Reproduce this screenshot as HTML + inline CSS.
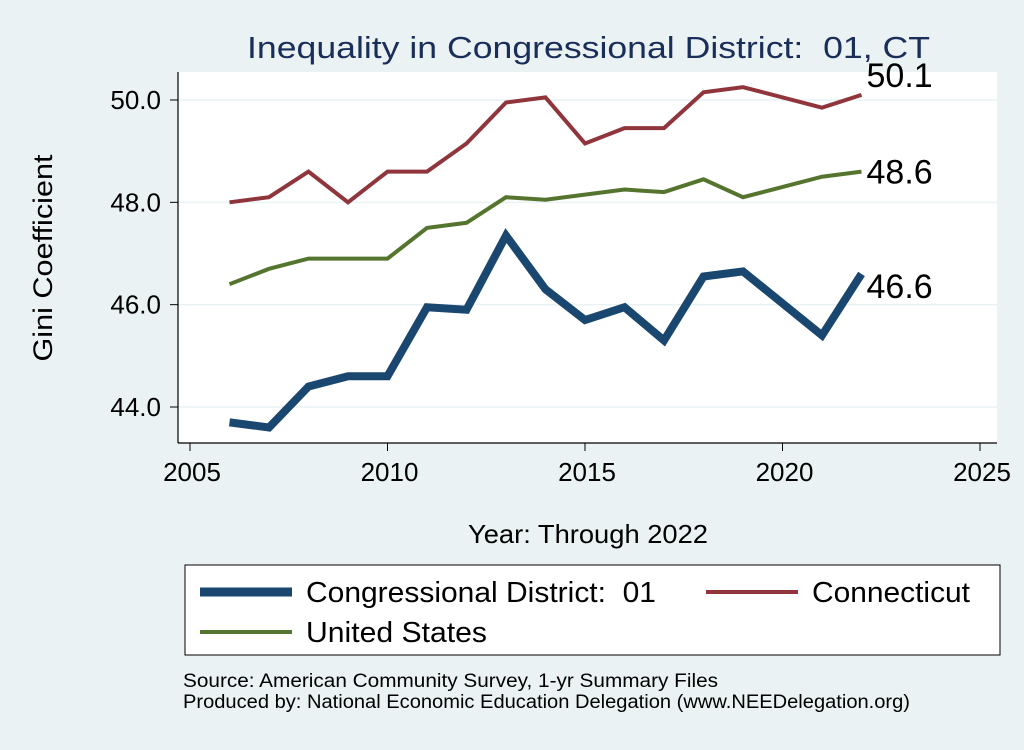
<!DOCTYPE html>
<html><head><meta charset="utf-8"><style>
body{margin:0;background:#eaf2f3;font-family:"Liberation Sans",sans-serif}
</style></head><body>
<svg width="1024" height="745" xmlns="http://www.w3.org/2000/svg">
<rect x="0" y="0" width="1024" height="745" fill="#eaf2f3"/>
<rect x="178" y="72" width="819" height="371" fill="#fff"/>
<g id="grid"></g>
<line x1="178" y1="72" x2="178" y2="443" stroke="#000" stroke-width="1.2"/>
<line x1="178" y1="443" x2="997" y2="443" stroke="#000" stroke-width="1.2"/>
<g id="axes"></g>
<g id="series"></g>
<text x="247" y="58" font-size="31" fill="#1a2e5a" textLength="683" lengthAdjust="spacingAndGlyphs">Inequality in Congressional District:&#160; 01, CT</text>
<text x="52" y="258" text-anchor="middle" font-size="27" textLength="207" lengthAdjust="spacingAndGlyphs" transform="rotate(-90 52 258)">Gini Coefficient</text>
<text x="468" y="543" font-size="26" textLength="240" lengthAdjust="spacingAndGlyphs">Year: Through 2022</text>
<g>
<rect x="185" y="565" width="815" height="90" fill="#fff" stroke="#000" stroke-width="1"/>
<line x1="200" y1="592" x2="292" y2="592" stroke="#1a476f" stroke-width="9"/>
<text x="306" y="602" font-size="29" textLength="350" lengthAdjust="spacingAndGlyphs">Congressional District:&#160; 01</text>
<line x1="706" y1="592" x2="798" y2="592" stroke="#90353b" stroke-width="4"/>
<text x="812" y="602" font-size="29" textLength="158" lengthAdjust="spacingAndGlyphs">Connecticut</text>
<line x1="200" y1="632" x2="292" y2="632" stroke="#55752f" stroke-width="4"/>
<text x="306" y="642" font-size="29" textLength="181" lengthAdjust="spacingAndGlyphs">United States</text>
</g>
<text x="183" y="687" font-size="19" textLength="535" lengthAdjust="spacingAndGlyphs">Source: American Community Survey, 1-yr Summary Files</text>
<text x="183" y="708" font-size="19" textLength="727" lengthAdjust="spacingAndGlyphs">Produced by: National Economic Education Delegation (www.NEEDelegation.org)</text>
</svg>
<script>
const years=[2006,2007,2008,2009,2010,2011,2012,2013,2014,2015,2016,2017,2018,2019,2021,2022];
const cd01=[43.7,43.6,44.4,44.6,44.6,45.95,45.9,47.35,46.3,45.7,45.95,45.3,46.55,46.65,45.4,46.6];
const ct=[48.0,48.1,48.6,48.0,48.6,48.6,49.15,49.95,50.05,49.15,49.45,49.45,50.15,50.25,49.85,50.1];
const us=[46.4,46.7,46.9,46.9,46.9,47.5,47.6,48.1,48.05,48.15,48.25,48.2,48.45,48.1,48.5,48.6];
const yTicks=[44,46,48,50];
const xTicks=[2005,2010,2015,2020,2025];
const NS="http://www.w3.org/2000/svg";
const xs=v=>190+(v-2005)*39.5;
const ys=v=>407-(v-44)*51.17;
const grid=document.getElementById('grid'),axes=document.getElementById('axes'),ser=document.getElementById('series');
function mk(t,a,p){const e=document.createElementNS(NS,t);for(const k in a)e.setAttribute(k,a[k]);p.appendChild(e);return e;}
yTicks.forEach(v=>{
 const g=mk('line',{x1:178,x2:997,y1:ys(v),y2:ys(v),stroke:'#eaf2f3','stroke-width':1.5},grid);
 
 
 mk('line',{x1:170,x2:178,y1:ys(v),y2:ys(v),stroke:'#000'},axes);
 const t=mk('text',{x:161,y:ys(v)+9,'text-anchor':'end','font-size':26},axes);
 t.textContent=v.toFixed(1);
 
 
});
xTicks.forEach(v=>{
 mk('line',{x1:xs(v),x2:xs(v),y1:443,y2:451,stroke:'#000'},axes);
 const t=mk('text',{x:xs(v)+2,y:481,'text-anchor':'middle','font-size':26},axes);
 t.textContent=v;
 
 
});
function line(d,col,w,name,ly){
 const p=mk('polyline',{points:years.map((y,i)=>xs(y)+','+ys(d[i])).join(' '),fill:'none',stroke:col,'stroke-width':w,'stroke-linejoin':'miter'},ser);
 
 
 const n=d.length-1;
 const t=mk('text',{x:xs(years[n])+5,y:ys(d[n])+ly,'font-size':34},ser);
 t.textContent=d[n].toFixed(1);
 
 
}
line(us,'#55752f',4,'us-line',12);
line(ct,'#90353b',4,'ct-line',-8);
line(cd01,'#1a476f',8,'cd01-line',24);
</script>
</body></html>
